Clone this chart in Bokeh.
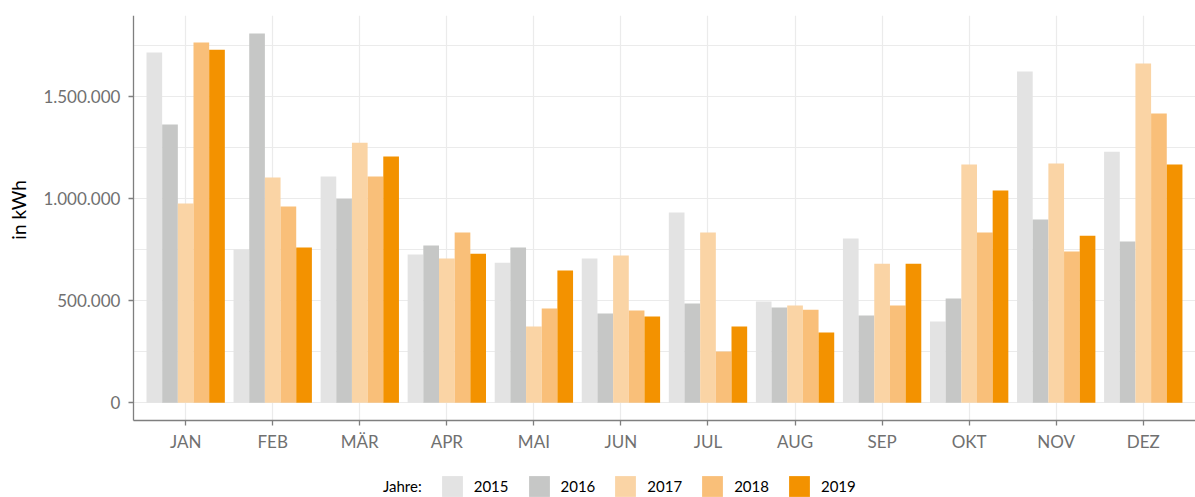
import math
from bokeh.plotting import figure
from bokeh.models import (ColumnDataSource, Range1d, FixedTicker, Legend, LegendItem,
                          Grid, BoxAnnotation, Label)
from bokeh.transform import dodge
from bokeh.embed import file_html
from bokeh.resources import INLINE

months = ["JAN", "FEB", "MÄR", "APR", "MAI", "JUN", "JUL", "AUG", "SEP", "OKT", "NOV", "DEZ"]
years = ["2015", "2016", "2017", "2018", "2019"]
v2015 = [1714000, 750000, 1107000, 726000, 686000, 706000, 931000, 496000, 804000, 398000, 1621000, 1229000]
v2016 = [1362000, 1807000, 999000, 770000, 760000, 437000, 486000, 466000, 427000, 510000, 897000, 789000]
v2017 = [975000, 1102000, 1273000, 706000, 373000, 721000, 833000, 476000, 681000, 1166000, 1171000, 1660000]
v2018 = [1763000, 960000, 1107000, 833000, 461000, 452000, 251000, 456000, 476000, 833000, 740000, 1415000]
v2019 = [1728000, 760000, 1205000, 730000, 647000, 422000, 373000, 344000, 681000, 1039000, 818000, 1166000]
y_ticks = [0, 500000, 1000000, 1500000]
y_tick_labels = ["0", "500.000", "1.000.000", "1.500.000"]
y_minor = [250000, 750000, 1250000, 1750000]
colors = ["#e3e3e3", "#c6c7c6", "#fad4a5", "#f9bf79", "#f39200"]
legend_title = "Jahre:"
y_title = "in kWh"

# panel limits and the full drawing area (which also holds axes texts and legend)
panel_left, panel_right = 0.4, 12.6
panel_bottom, panel_top = -87000, 1895000
area_left, area_bottom = -1.127, -463000

series = [v2015, v2016, v2017, v2018, v2019]
xs = list(range(1, len(months) + 1))
data = {"x": xs}
for yr, vals in zip(years, series):
    data["y" + yr] = vals
src = ColumnDataSource(data)

FONT = "Lato"
p = figure(width=1195, height=497, output_backend="svg", toolbar_location=None,
           x_range=Range1d(area_left, panel_right), y_range=Range1d(area_bottom, panel_top),
           min_border_left=0, min_border_right=0, min_border_top=15, min_border_bottom=0)
p.outline_line_color = None

bar_w = 0.18
offsets = [-0.36, -0.18, 0.0, 0.18, 0.36]
renderers = []
for yr, col, off in zip(years, colors, offsets):
    r = p.vbar(x=dodge("x", off, range=p.x_range), top="y" + yr, width=bar_w, bottom=0,
               source=src, fill_color=col, line_color=None)
    renderers.append(r)

# transparent key that only carries the legend heading
title_r = p.vbar(x=[], top=[], width=bar_w, fill_alpha=0, line_alpha=0)

p.xgrid.ticker = FixedTicker(ticks=xs)
for g in (p.xgrid[0], p.ygrid[0]):
    g.grid_line_color = "#ebebeb"
    g.grid_line_width = 1.2
p.ygrid.minor_grid_line_color = "#ebebeb"
p.ygrid.minor_grid_line_width = 1.2
if "cross_bounds" in Grid.properties():
    p.xgrid.cross_bounds = (panel_bottom, panel_top)
    p.ygrid.cross_bounds = (panel_left, panel_right)
else:
    p.add_layout(BoxAnnotation(top=panel_bottom, fill_color="white", fill_alpha=1,
                               line_color=None, level="glyph"))
    p.add_layout(BoxAnnotation(right=panel_left, fill_color="white", fill_alpha=1,
                               line_color=None, level="glyph"))

xa = p.xaxis[0]
xa.ticker = FixedTicker(ticks=xs)
xa.major_label_overrides = {x: m for x, m in zip(xs, months)}
xa.fixed_location = panel_bottom
xa.bounds = (panel_left, panel_right)
ya = p.yaxis[0]
ya.ticker = FixedTicker(ticks=y_ticks, minor_ticks=y_minor)
ya.major_label_overrides = {t: l for t, l in zip(y_ticks, y_tick_labels)}
ya.fixed_location = panel_left
ya.bounds = (panel_bottom, panel_top)
for ax in (xa, ya):
    ax.axis_line_color = "#7f7f7f"
    ax.axis_line_width = 1.3
    ax.major_tick_line_color = "#7f7f7f"
    ax.major_tick_line_width = 1.3
    ax.major_tick_out = 5
    ax.major_tick_in = 0
    ax.minor_tick_line_color = None
    ax.major_label_text_font = FONT
    ax.major_label_text_font_size = "17px"
    ax.major_label_text_color = "#707070"
ya.major_label_standoff = 8
xa.major_label_standoff = 5

# y-axis title, centred on the panel height
p.add_layout(Label(x=panel_left - 115 / 87.1, y=(panel_bottom + panel_top) / 2 + 40000,
                   text=y_title, angle=math.pi / 2, text_font=FONT, text_font_size="19px",
                   text_color="black", text_align="center", text_baseline="middle"))

items = [LegendItem(label=legend_title, renderers=[title_r])]
items += [LegendItem(label=yr, renderers=[r]) for yr, r in zip(years, renderers)]
legend = Legend(items=items, orientation="horizontal", location=(348, -2))
legend.glyph_width = 26
legend.glyph_height = 26
legend.label_standoff = 9
legend.spacing = 17
legend.padding = 0
legend.margin = 0
legend.border_line_color = None
legend.background_fill_alpha = 0
legend.label_text_font = FONT
legend.label_text_font_size = "15px"
legend.label_text_color = "black"
legend.label_text_baseline = "middle"
p.add_layout(legend, "center")

open("out.html", "w").write(file_html(p, INLINE))
